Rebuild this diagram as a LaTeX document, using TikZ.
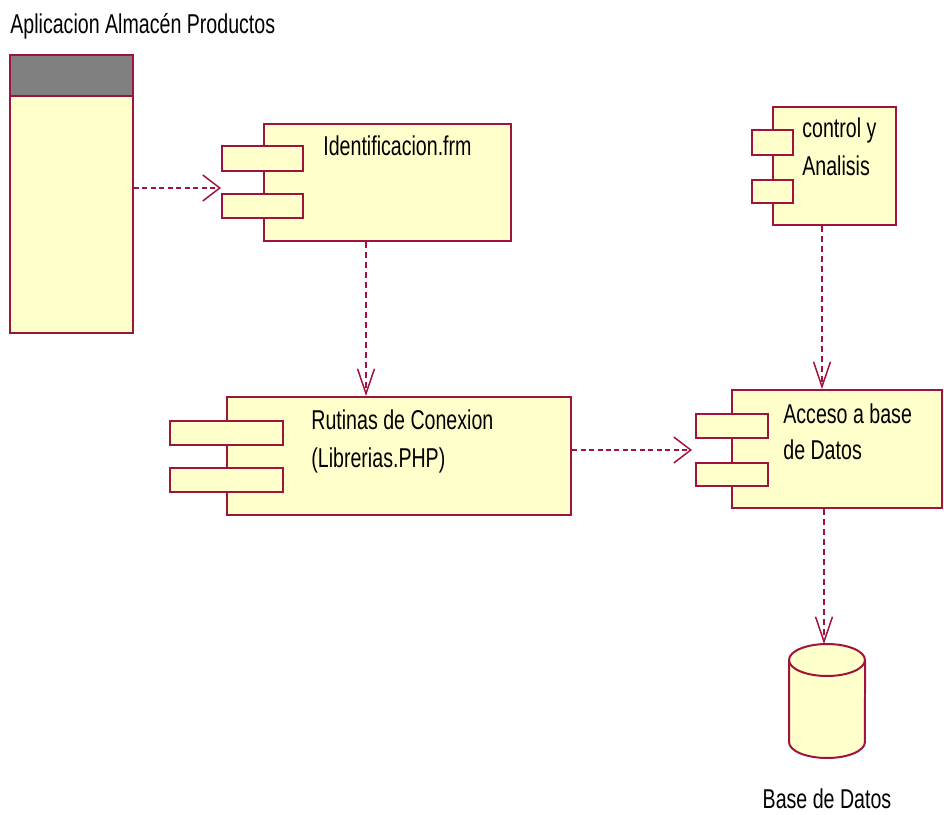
\documentclass[tikz,border=0pt]{standalone}
\usepackage{fontspec}
\setmainfont[FakeStretch=0.72]{Liberation Sans}
\usetikzlibrary{arrows.meta,fit,calc}
\definecolor{rose}{RGB}{160,20,60}
\definecolor{cream}{RGB}{255,255,204}
\definecolor{hdgray}{RGB}{128,128,128}
\begin{document}
\begin{tikzpicture}[x=0.02cm,y=-0.02cm,
  box/.style={draw=rose, fill=cream, line width=0.04cm, inner sep=0pt},
  lbl/.style={anchor=base west, inner sep=0pt, font=\fontsize{15.5}{18}\selectfont, text=black},
  dep/.style={draw=rose, line width=0.03cm},
  deph/.style={dep, dash pattern=on 0.1cm off 0.07cm,
    -{Straight Barb[length=0.34cm,width=0.52cm,line width=0.03cm]}},
  depv/.style={dep, dash pattern=on 0.12cm off 0.08cm,
    -{Straight Barb[length=0.5cm,width=0.34cm,line width=0.03cm]}}]
\useasboundingbox (0,0) rectangle (944,815);

% package with its grey header
\node[lbl] (title) at (10,33) {Aplicacion Almacén Productos};
\node[box, fit={(10,55)(133,333)}] (pkg) {};
\node[box, fill=hdgray, fit={(10,55)(133,96)}] (pkghd) {};

% component: Identificacion.frm
\node[box, fit={(264,124)(511,241)}] (idf) {};
\node[box, fit={(222,146)(303,171)}] (idf-t1) {};
\node[box, fit={(222,194)(303,218)}] (idf-t2) {};
\node[lbl] (idf-l) at (323,155) {Identificacion.frm};

% component: control y Analisis
\node[box, fit={(773,107)(896,225)}] (ctl) {};
\node[box, fit={(752,130)(793,155)}] (ctl-t1) {};
\node[box, fit={(752,180)(793,203)}] (ctl-t2) {};
\node[lbl] (ctl-l1) at (802,137) {control y};
\node[lbl] (ctl-l2) at (802,175) {Analisis};

% component: Rutinas de Conexion
\node[box, fit={(227,397)(571,515)}] (rut) {};
\node[box, fit={(170,421)(283,445)}] (rut-t1) {};
\node[box, fit={(170,468)(283,492)}] (rut-t2) {};
\node[lbl] (rut-l1) at (311,429) {Rutinas de Conexion};
\node[lbl] (rut-l2) at (311,467) {(Librerias.PHP)};

% component: Acceso a base de Datos
\node[box, fit={(732,390)(942,508)}] (acc) {};
\node[box, fit={(696,414)(768,438)}] (acc-t1) {};
\node[box, fit={(696,463)(768,486)}] (acc-t2) {};
\node[lbl] (acc-l1) at (783,423) {Acceso a base};
\node[lbl] (acc-l2) at (783,459) {de Datos};

% database cylinder
\filldraw[fill=cream, draw=rose, line width=0.04cm]
  (789,660) -- (789,742) arc[start angle=180, end angle=360, x radius=0.76cm, y radius=0.32cm]
  -- (865,660) arc[start angle=0, end angle=180, x radius=0.76cm, y radius=0.32cm] -- cycle;
\draw[draw=rose, line width=0.04cm]
  (789,660) arc[start angle=180, end angle=360, x radius=0.76cm, y radius=0.32cm];
\coordinate (db) at (824,644);
\node[lbl, anchor=base] (db-l) at (827,808) {Base de Datos};

% dependencies
\coordinate (a1) at ($(pkg.east)+(0,-6)$);
\draw[deph] (a1) -- (a1 -| idf-t1.west);
\coordinate (v1) at (366,0);
\draw[depv] (v1 |- idf.south) -- (v1 |- rut.north);
\coordinate (v2) at (822,0);
\draw[depv] (v2 |- ctl.south) -- (v2 |- acc.north);
\coordinate (a2) at ($(acc.center)+(0,1)$);
\draw[deph] (rut.east |- a2) -- ([xshift=-0.06cm]acc-t1.west |- a2);
\coordinate (v3) at (824,0);
\draw[depv] (v3 |- acc.south) -- (db);
\end{tikzpicture}
\end{document}
